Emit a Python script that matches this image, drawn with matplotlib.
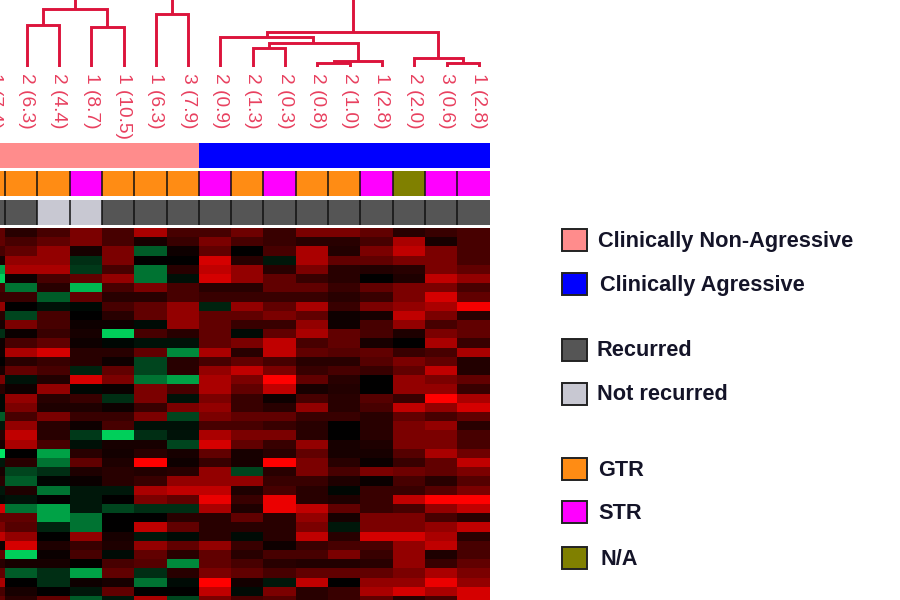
#! /usr/bin/python

import matplotlib
matplotlib.use('Agg')
import matplotlib.pyplot as plt
from matplotlib.colors import LinearSegmentedColormap, ListedColormap
from matplotlib.patches import Rectangle
import numpy as np

plt.rcParams['font.family'] = ['Liberation Sans', 'DejaVu Sans']

# sample labels, first one is cut by the left edge
labels = ['1 (7.4)', '2 (6.3)', '2 (4.4)', '1 (8.7)', '1 (10.5)', '1 (6.3)', '3 (7.9)', '2 (0.9)',
          '2 (1.3)', '2 (0.3)', '2 (0.8)', '2 (1.0)', '1 (2.8)', '2 (2.0)', '3 (0.6)', '1 (2.8)']

# annotation bars, index into the colour lists
aggr = [0, 0, 0, 0, 0, 0, 0, 1, 1, 1, 1, 1, 1, 1, 1, 1]
resect = [0, 0, 0, 1, 0, 0, 0, 1, 0, 1, 0, 0, 1, 2, 1, 1]
recur = [0, 0, 1, 1, 0, 0, 0, 0, 0, 0, 0, 0, 0, 0, 0, 0]

aggr_colors = ['#ff8c8c', '#0000ff']
resect_colors = ['#ff8c14', '#ff00ff', '#808000']
recur_colors = ['#555555', '#c8c8d2']

# left, right, height. leaves are 1..15, merged nodes count from 100
merges = [(1, 2, 42), (3, 4, 40), (100, 101, 58), (5, 6, 53), (8, 9, 19), (10, 11, 4),
          (105, 12, 6.5), (104, 106, 24), (7, 107, 30), (14, 15, 4), (13, 109, 9),
          (108, 110, 35), (102, 103, 75), (112, 111, 90)]

# expression, -10 full green .. 0 black .. 10 full red
expr = [
    [3, 1, 2, 4, 2, 6, 2, 2, 3.5, 1.5, 4, 4, 3, 1, 1.5, 2],
    [3, 2, 3, 4, 2, 0.5, 1.5, 4, 2, 1.5, 1, 1, 2, 6, 0.5, 2],
    [2, 3, 5, 0.5, 4, -4, 0.3, 3, 0, 2, 6, 0.8, 4, 7, 4, 2],
    [0.5, 5, 5, -2, 4, 0, 0, 8, 1, -1, 6, 3, 3, 4, 4, 2],
    [-7, 6, 6, -2.5, 2, -5, 1, 7, 5, 1, 4, 1, 0.8, 1, 4, 3],
    [-9, 0.3, 2, 3, 5, -5, -0.7, 8, 5, 3, 1.5, 1, 0, 0.7, 7, 5],
    [2, -5, 1, -8, 2, 4, 2, 1, 1, 3, 3, 1.5, 3, 4, 4, 2],
    [1.5, 1.5, -4, 3, 1, 1, 2, 1.5, 1.5, 1.5, 1.5, 1, 1.5, 4, 8, 3],
    [5, 0, -0.7, -0.4, 2, 3, 5, -1.5, 5, 3, 6, 1.5, 4, 5, 6, 9.5],
    [1, -3, 2, 0, 1, 3, 5, 3, 3, 4, 3, 0.3, 0.5, 7, 4, 1],
    [0.5, 4, 2, 0.3, 0.3, -0.5, 5, 3, 1.5, 1.5, 5, 0.3, 2, 5, 2, 3],
    [-2, 0.2, 1.5, 0.5, -9, 2, 1, 3, -0.5, 3, 6, 3, 2, 0.7, 4, 3],
    [0.3, 2, 3, 0.3, -0.3, -0.8, -0.8, 3, 4, 7, 2, 3, 0.5, 0, 6, 1.5],
    [0.3, 6, 8, 1, 1, 3, -6, 6, 1, 7, 3, 2.5, 3, 1.5, 2, 6],
    [0, 1, 1.5, 1, 0.3, -3, 1, 2, 3, 2, 1, 1, 2.5, 4, 3, 0.8],
    [0.5, 3, 2, -1.5, 3, -3, 1, 5, 7, 4, 1.5, 2, 1.5, 3, 7, 0.8],
    [4, -0.8, 0.8, 8, 4, -5, -7, 6, 4, 10, 3, 1, 0, 5, 4, 3],
    [1, 0.3, 5, -0.3, 0.2, 4, 2, 6, 3, 7, 0.5, 0.8, 0, 5, 5, 1.5],
    [-0.3, 5, 1, 1.5, -2, 4, -0.8, 4, 1.5, 0.3, 2, 1, 2.5, 1.5, 10, 6],
    [-0.3, 4, 0.7, 0.7, 0.3, 1.5, 4, 5, 1.5, 1, 5, 1, 2, 7, 5, 8],
    [-4, 2, 4, 1.5, 1.5, 4, -3, 4, 3, 3, 1.5, 1.5, 1, 3, 2, 3],
    [-1, 5, 1, 0.3, 2, -0.7, -0.7, 2, 2, 1.5, 1, 0, 1, 4, 5, 1],
    [1, 7, 1, -2.5, -9, -2, -0.8, 6, 4, 4, 1, 0, 1, 4, 4, 2],
    [0.5, 6, 2, -0.7, 0.5, 0.5, -3, 8, 3, 1.5, 5, 0.5, 0.7, 4, 4, 2],
    [-10, 0, -7, 1, 0.4, 1, 0.5, 3, 0.5, 1, 3, 0.5, 0.5, 2.5, 6, 3.5],
    [-1, 1, -5, 3, 0.7, 10, 0.3, 1.5, 0.5, 10, 4, 1, 0.2, 1.5, 3, 7],
    [0.5, -3, -2, 0.7, 1, 0.8, 1, 5, -3, 1, 4, 2, 4, 3.5, 3, 4],
    [1, -4, -0.2, 0.2, 1, 1.5, 5, 5, 5, 1.5, 1.5, 0.7, 0.2, 2, 1, 2.5],
    [-1, 0.7, -5, -1, -1, 6, 7, 7, 0.7, 2, 1, -0.3, 1.5, 1.5, 2.5, 4],
    [-0.5, -0.8, 0, -1, 0, 4, 3, 9, 1.5, 9, 1, 0.7, 1.5, 7, 10, 10],
    [8, -5, -7, -1, -3, -2, -2, 6, 0.7, 9, 7, 3, 1.5, 2, 5, 7],
    [3, 3, -7, -5, 0, 0, 1, 1, 3, 1, 5, 0.5, 4, 4, 2, 1],
    [4, 2.5, -1.5, -5, 0, 7, 3, 1, 1, 1, 4, -1, 4, 4, 5, 7],
    [7, 5, 0, 5, 0.5, -1, -0.5, 1, -0.5, 1, 7, 1, 8, 8, 6, 1],
    [0.3, 8, 0.7, 1.5, 0.7, 5, 3, 5, 1.5, 0.3, 1.5, 2, 2, 5, 7, 2],
    [3, -9, 0.2, 2, -0.5, 3, 1, 3, 1, 2, 2, 4, 1.5, 5, 0.7, 2],
    [1, 0.5, 0.5, 0, 2, 2.5, -6, 3, 2, 1, 0.8, 0.8, 1, 5, 1.5, 3],
    [3, -4, -2, -7, 3, -2, 1, 4, 3, 2, 3, 3, 3, 4, 6, 4],
    [6, 0, -2, 0.3, 0.5, -5, -0.5, 10, 0.4, -1, 7, 0, 5, 5, 9, 5],
    [2, 0.5, 0, -1, 3, 0, 0, 7, -0.5, 4, 1, 1.5, 6, 8, 6, 8],
    [3, 1, 3, -4, -1, 6, -3, 4, 2, 2.5, 1, 1.5, 3, 1, 2, 8],
]

legend_labels = ['Clinically Non-Agressive', 'Clinically Agressive', 'Recurred', 'Not recurred',
                 'GTR', 'STR', 'N/A']
legend_colors = aggr_colors + recur_colors + resect_colors

W, H = 900.0, 600.0
COLW = 32.3
LEFT = 1 - 5 / COLW   # column 0 is cut by the figure edge
RIGHT = 16


def px_axes(l, t, r, b):
    a = fig.add_axes([l / W, 1 - b / H, (r - l) / W, (b - t) / H])
    a.set_axis_off()
    return a


fig = plt.figure(figsize=(9, 6), dpi=100)

# dendrogram, leaves sit a bit right of the cell centres
dx = 5.5 / COLW
den = px_axes(0, 0, 489.5, 67)
den.set_xlim(LEFT - dx, RIGHT - dx)
den.set_ylim(0, 67)
pos = {i: (i + 0.5, 0) for i in range(1, 16)}
for k, (a, b, h) in enumerate(merges):
    xa, ha = pos[a]
    xb, hb = pos[b]
    den.plot([xa, xa, xb, xb], [ha, h, h, hb], color='crimson', lw=2.1,
             solid_joinstyle='miter', solid_capstyle='butt')
    pos[100 + k] = ((xa + xb) / 2, h)
for i, lab in enumerate(labels):
    den.text(i + 0.5, -6, lab, rotation=270, ha='center', va='top', fontsize=13.8,
             color='#e8405f', clip_on=False)

# annotation bars
bars = [(143, 167.5, aggr, aggr_colors, False), (171, 196, resect, resect_colors, True),
        (199.5, 224.5, recur, recur_colors, True)]
for top, bot, vals, cols, seps in bars:
    bx = px_axes(0, top, 489.5, bot)
    bx.pcolormesh(np.arange(17), [0, 1], np.array([vals]), cmap=ListedColormap(cols),
                  vmin=-0.5, vmax=len(cols) - 0.5)
    bx.set_xlim(LEFT, RIGHT)
    bx.set_ylim(0, 1)
    if seps:
        bx.vlines(np.arange(1, 16), 0, 1, color='#111111', lw=1.1)

# heatmap, the reds rise faster than the greens near black
lev = np.linspace(0, 1, 21)
ramp = [(0, 230 / 255 * (1 - t), 100 / 255 * (1 - t)) for t in lev] + [(t ** 0.8, 0, 0) for t in lev[1:]]
cmap = LinearSegmentedColormap.from_list('gbr', ramp, N=512)
hm = px_axes(0, 228, 489.5, 600)
hm.pcolormesh(np.arange(17), np.arange(len(expr) + 1), np.array(expr), cmap=cmap, vmin=-10, vmax=10)
hm.set_xlim(LEFT, RIGHT)
hm.set_ylim(372 / 9.2, 0)

# legend, drawn in pixels
lg = px_axes(0, 0, W, H)
lg.set_xlim(0, W)
lg.set_ylim(H, 0)
box_top = [228.5, 272.5, 338.5, 382.5, 457.5, 501, 547]
text_x = [598, 600, 597, 597, 598, 598, 600]
for t, tx, lab, col in zip(box_top, text_x, legend_labels, legend_colors):
    lg.add_patch(Rectangle((562, t), 25, 22, facecolor=col, edgecolor='#222222', lw=1.4))
    lg.text(tx, t + 12.5, lab, fontsize=15.7, fontweight='bold', color='#141428',
            ha='left', va='center')

fig.savefig('out.png', dpi=100)
